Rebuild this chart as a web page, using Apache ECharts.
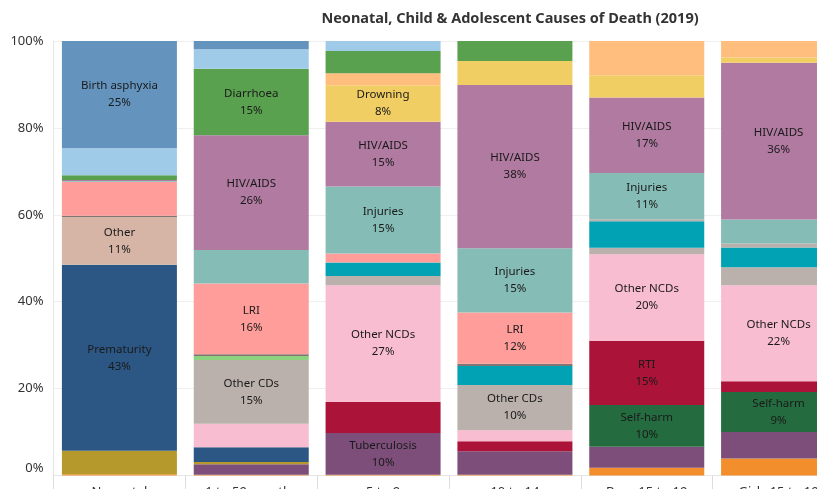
<!DOCTYPE html>
<html>
<head>
<meta charset="utf-8">
<script src="https://cdn.jsdelivr.net/npm/echarts@6/dist/echarts.min.js"></script>
<style>
html,body{margin:0;padding:0;background:#fff;}
#chart{width:817px;height:489px;}
</style>
</head>
<body>
<div id="chart"></div>
<script>
// Categories (columns)
const categories = ['Neonatal', '1 to 59 months', '5 to 9', '10 to 14', 'Boys 15 to 19', 'Girls 15 to 19'];
const yTicks = [0, 20, 40, 60, 80, 100];

// Series values (% of deaths), stacked bottom to top
const interpersonalViolence = [0.3, 0.2, 0.2, 0.2, 1.8, 3.9];
const tuberculosis         = [0, 2.4, 9.6, 5.4, 4.8, 6.1];
const congenital           = [5.4, 0.5, 0, 0, 0, 0];
const prematurity          = [42.8, 3.4, 0, 0, 0, 0];
const selfHarm             = [0, 0, 0, 0, 9.6, 9.2];
const rti                  = [0, 0, 7.1, 2.3, 14.8, 2.5];
const otherNCDs            = [0, 5.4, 26.9, 2.5, 19.9, 22.1];
const other                = [11.0, 0, 0, 0, 0, 0];
const otherCDs             = [0, 14.7, 2.1, 10.4, 1.5, 4.1];
const measles              = [0, 0.9, 0, 0, 0, 0];
const meningitis           = [0, 0, 3.1, 4.4, 6.1, 4.6];
const malaria              = [0.3, 0.4, 0, 0.5, 0, 0];
const nutritional          = [0, 0, 0, 0, 0.5, 0.9];
const lri                  = [7.8, 16.3, 2.1, 11.8, 0, 0];
const injuries             = [0.2, 7.7, 15.4, 14.8, 10.6, 5.5];
const hivAids              = [0.2, 26.4, 14.9, 37.6, 17.4, 36.1];
const drowning             = [0, 0, 8.4, 5.5, 5.1, 1.2];
const collectiveViolence   = [0, 0, 2.8, 0, 7.9, 3.8];
const diarrhoea            = [1.1, 15.3, 5.1, 4.6, 0, 0];
const sepsis               = [6.2, 4.5, 2.3, 0, 0, 0];
const birthAsphyxia        = [24.7, 1.9, 0, 0, 0, 0];

const seriesDefs = [
  ['Interpersonal violence', interpersonalViolence, '#F28E2B'],
  ['Tuberculosis', tuberculosis, '#7C4E79'],
  ['Congenital anomalies', congenital, '#B6992D'],
  ['Prematurity', prematurity, '#2C5784'],
  ['Self-harm', selfHarm, '#246B3F'],
  ['RTI', rti, '#AC1338'],
  ['Other NCDs', otherNCDs, '#F9BDD2'],
  ['Other', other, '#D6B5A6'],
  ['Other CDs', otherCDs, '#BAB0AC'],
  ['Measles', measles, '#8CD17D'],
  ['Meningitis', meningitis, '#00A2B4'],
  ['Malaria', malaria, '#7F7573'],
  ['Nutritional deficiencies', nutritional, '#B9AFAB'],
  ['LRI', lri, '#FF9D9A'],
  ['Injuries', injuries, '#86BCB6'],
  ['HIV/AIDS', hivAids, '#B07AA1'],
  ['Drowning', drowning, '#F1CE63'],
  ['Collective violence', collectiveViolence, '#FFBE7D'],
  ['Diarrhoea', diarrhoea, '#59A14F'],
  ['Sepsis', sepsis, '#A0CBE8'],
  ['Birth asphyxia', birthAsphyxia, '#6494BE']
];

const FONT = 'Noto Sans';
const chart = echarts.init(document.getElementById('chart'), null, {renderer: 'canvas'});

const series = seriesDefs.map(([name, values, color]) => ({
  name: name,
  type: 'bar',
  stack: 'total',
  barWidth: 115,
  data: values,
  itemStyle: {color: color},
  emphasis: {disabled: true},
  label: {
    show: true,
    position: 'inside',
    color: '#1a1a1a',
    fontFamily: FONT,
    fontSize: 11.5,
    lineHeight: 17,
    formatter: p => (p.value >= 8 ? p.seriesName + '\n' + Math.round(p.value) + '%' : '')
  }
}));

chart.setOption({
  animation: false,
  backgroundColor: '#ffffff',
  title: {
    text: 'Neonatal, Child & Adolescent Causes of Death (2019)',
    left: 505,
    textAlign: 'center',
    top: 6,
    textStyle: {fontFamily: FONT, fontSize: 14.5, fontWeight: 'bold', color: '#333333'}
  },
  grid: {left: 53.5, top: 41, width: 791, height: 434.5, containLabel: false, outerBoundsMode: 'none'},
  xAxis: {
    type: 'category',
    data: categories,
    axisLine: {show: true, lineStyle: {color: '#e6e6e6', width: 1}},
    axisTick: {show: true, length: 16, lineStyle: {color: '#dcdcdc'}},
    axisLabel: {fontFamily: FONT, fontSize: 13, color: '#333', margin: 10.5}
  },
  yAxis: {
    type: 'value',
    min: yTicks[0],
    max: yTicks[yTicks.length - 1],
    interval: 20,
    axisLine: {show: true, lineStyle: {color: '#e6e6e6'}},
    axisTick: {show: false},
    splitLine: {show: true, lineStyle: {color: '#efefef', width: 1}},
    axisLabel: {
      fontFamily: FONT, fontSize: 13, color: '#333', margin: 10,
      formatter: v => (v === 0 ? '{z|0%}' : v + '%'),
      rich: {z: {fontFamily: FONT, fontSize: 13, color: '#333', padding: [0, 0, 14, 0]}}
    }
  },
  series: series
});
</script>
</body>
</html>
